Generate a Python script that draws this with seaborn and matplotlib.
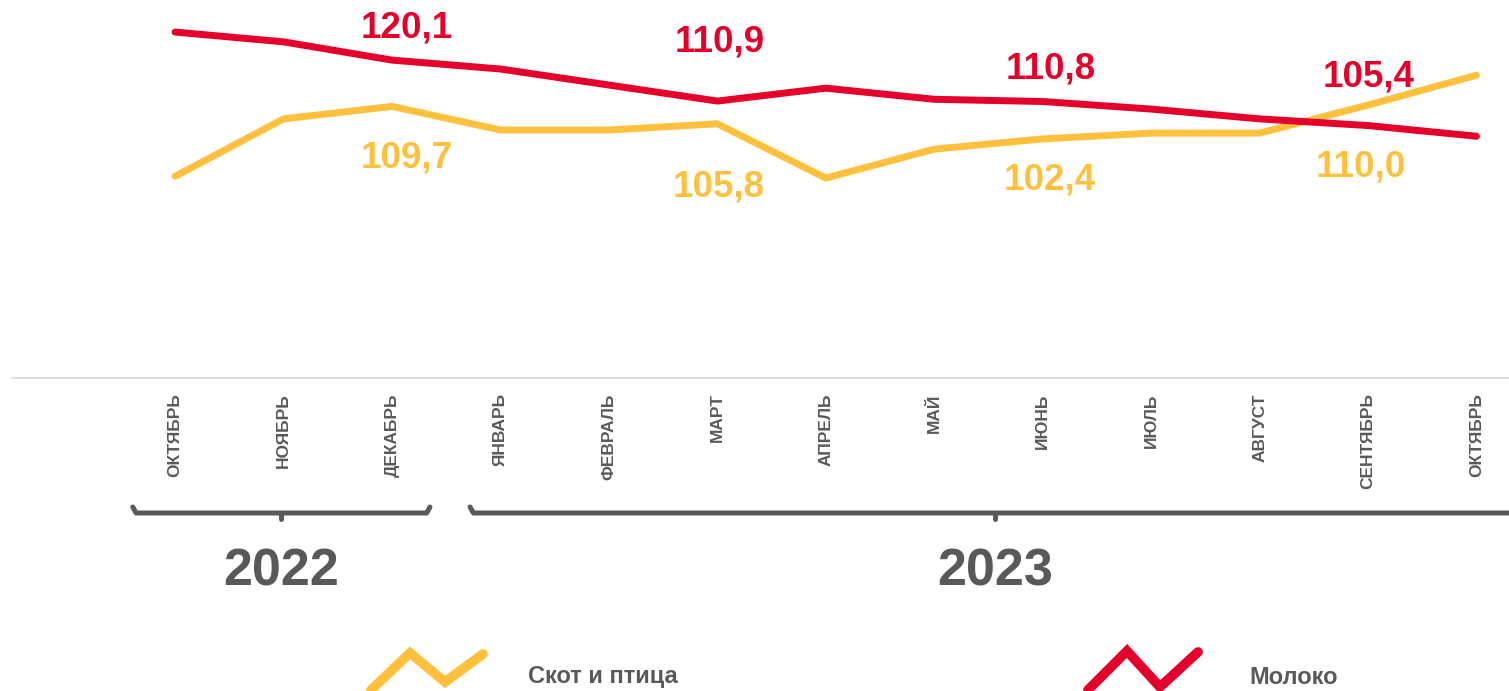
import pandas as pd
import matplotlib.pyplot as plt
from matplotlib.lines import Line2D
from matplotlib.transforms import blended_transform_factory
import seaborn as sns

# values
months = ['ОКТЯБРЬ', 'НОЯБРЬ', 'ДЕКАБРЬ', 'ЯНВАРЬ', 'ФЕВРАЛЬ', 'МАРТ', 'АПРЕЛЬ',
          'МАЙ', 'ИЮНЬ', 'ИЮЛЬ', 'АВГУСТ', 'СЕНТЯБРЬ', 'ОКТЯБРЬ']
livestock = [94.0, 106.9, 109.7, 104.4, 104.4, 105.8, 93.6, 100.1, 102.4, 103.7, 103.7, 110.0, 116.7]
milk = [126.4, 124.2, 120.1, 118.1, 114.5, 110.9, 113.8, 111.3, 110.8, 109.1, 106.9, 105.4, 103.0]
series_names = ['Скот и птица', 'Молоко']
labelled = [2, 5, 8, 11]
years = ['2022', '2023']
year_spans = [(0, 2), (3, 12)]

colors = {'Скот и птица': '#FFC13D', 'Молоко': '#E4002B'}
grey = '#595959'

df = pd.DataFrame({
    'pos': list(range(len(months))) * 2,
    'value': livestock + milk,
    'series': [series_names[0]] * len(months) + [series_names[1]] * len(months),
})

sns.set_theme(style='white')
plt.rcParams['font.family'] = ['Liberation Sans', 'DejaVu Sans']
plt.rcParams['font.weight'] = 'bold'

W, H = 1509, 691
fig = plt.figure(figsize=(W / 100, H / 100), dpi=100)
ax = fig.add_axes([12 / W, 1 - 378 / H, 1 - 12 / W, 378 / H])

sns.lineplot(data=df, x='pos', y='value', hue='series', hue_order=series_names,
             palette=colors, linewidth=5, legend=False, ax=ax,
             solid_capstyle='round', solid_joinstyle='round')

ax.set_xlim(-1.504, 12.30)
ax.set_ylim(48.7, 133.6)
ax.set_xticks(range(len(months)))
ax.set_xticklabels(months, rotation=90, fontsize=12.5, fontweight='bold', color=grey)
ax.tick_params(axis='x', length=0, pad=11)
ax.set_yticks([])
ax.set_xlabel('')
ax.set_ylabel('')
for s in ['left', 'right', 'top']:
    ax.spines[s].set_visible(False)
ax.spines['bottom'].set_color('#D9D9D9')
ax.spines['bottom'].set_linewidth(1.2)

# data labels (offsets in pixels)
milk_off = [(15, 32), (2, 59), (8, 33), (1, 49)]
live_off = [(15, -52), (1, -63), (7, -41), (-7, -62)]
for i, mo, lo in zip(labelled, milk_off, live_off):
    ax.annotate(f'{milk[i]:.1f}'.replace('.', ','), (i, milk[i]), xytext=mo,
                textcoords='offset pixels', ha='center', va='center',
                fontsize=26.5, fontweight='bold', color=colors['Молоко'])
    ax.annotate(f'{livestock[i]:.1f}'.replace('.', ','), (i, livestock[i]), xytext=lo,
                textcoords='offset pixels', ha='center', va='center',
                fontsize=26.5, fontweight='bold', color=colors['Скот и птица'])

# year brackets below the axis (bracket reach beyond first/last month)
tr = blended_transform_factory(ax.transData, fig.transFigure)
def fy(y):
    return 1 - y / H

bracket_pad = [(0.39, 0.35), (0.28, 0.40)]
for (a, b), (pl, pr), yr in zip(year_spans, bracket_pad, years):
    x0, x1 = a - pl, b + pr
    mid = (x0 + x1) / 2
    br = Line2D([x0, x0 + 0.03, x1 - 0.03, x1], [fy(507), fy(513), fy(513), fy(507)],
                transform=tr, color=grey, lw=3.6, solid_joinstyle='round',
                solid_capstyle='round', clip_on=False)
    fig.add_artist(br)
    fig.add_artist(Line2D([mid, mid], [fy(513), fy(519)], transform=tr, color=grey,
                          lw=3.6, clip_on=False))
    fig.text(mid, fy(572), yr, transform=tr, ha='center', va='center',
             fontsize=37.5, fontweight='bold', color=grey)

# legend with zigzag icons
icons = {
    'Скот и птица': ([371, 410, 445, 483], [690, 653, 682, 654], 528),
    'Молоко': ([1088, 1127, 1160, 1198], [690, 651, 687, 652], 1249),
}
for name in series_names:
    xs, ys, tx = icons[name]
    fig.add_artist(Line2D([x / W for x in xs], [fy(y) for y in ys],
                          transform=fig.transFigure, color=colors[name], lw=7,
                          solid_joinstyle='miter'))
    fig.text(tx / W, fy(677), name, ha='left', va='center', fontsize=17,
             fontweight='bold', color=grey)

fig.savefig('out.png', dpi=100)
